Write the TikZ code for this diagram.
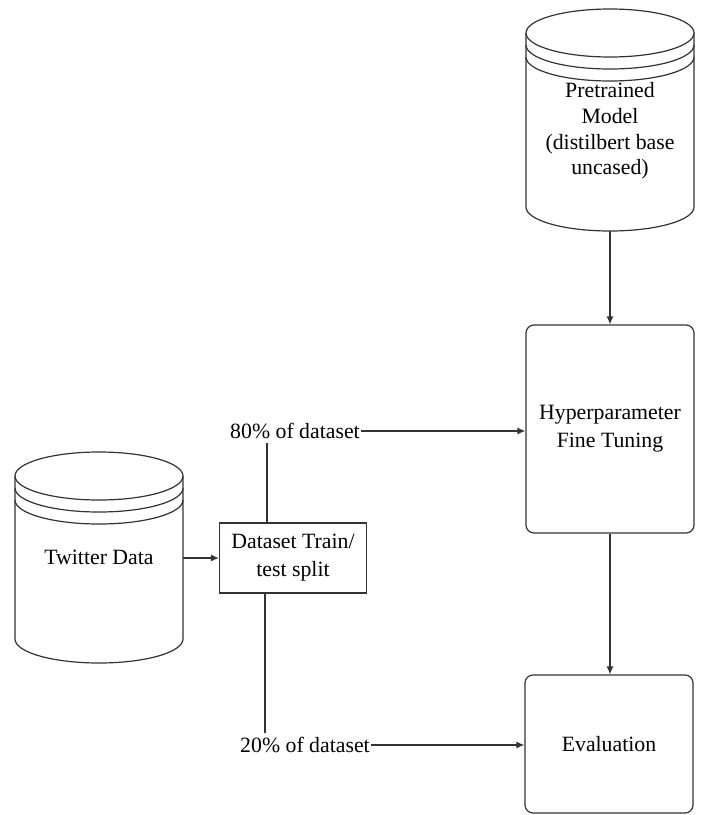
\documentclass[tikz,border=0pt]{standalone}
\usepackage{fontspec}
\setmainfont{Liberation Serif}
\usetikzlibrary{arrows.meta}

\begin{document}
\begin{tikzpicture}[x=0.5pt,y=-0.5pt,line width=0.6pt,draw=black!80,
        every node/.style={font=\fontsize{10.9}{14}\selectfont,align=center},
        stage/.style={draw,rounded corners=4pt,minimum width=84pt},
        share/.style={inner xsep=0.5pt,inner ysep=2pt},
        arr/.style={-{Latex[length=4pt,width=3.5pt]}}]
        \useasboundingbox (0,0) rectangle (701,815);
        % pretrained model store
        \draw (610,33) ellipse [x radius=84, y radius=24];
        \draw (526,45) arc [start angle=180, end angle=0, x radius=84, y radius=24];
        \draw (526,57) arc [start angle=180, end angle=0, x radius=84, y radius=24];
        \draw (526,33) -- (526,207) arc [start angle=180, end angle=0, x radius=84, y radius=24] -- (694,33);
        \node [font=\fontsize{10.9}{12.9}\selectfont] (pretrained) at (610,131) {Pretrained\\Model\\(distilbert base\\uncased)};
        \coordinate (pretrained-bot) at (610,231);
        % twitter data store
        \draw (99,476) ellipse [x radius=84, y radius=24];
        \draw (15,488) arc [start angle=180, end angle=0, x radius=84, y radius=24];
        \draw (15,500) arc [start angle=180, end angle=0, x radius=84, y radius=24];
        \draw (15,476) -- (15,639) arc [start angle=180, end angle=0, x radius=84, y radius=24] -- (183,476);
        \node (twitter) at (99,557) {Twitter Data};
        \coordinate (twitter-e) at (183,558);
        % boxes
        \node [draw,minimum width=73.5pt,minimum height=35pt] (split) at (293,558) {Dataset Train/\\test split};
        \node [stage,minimum height=104pt] (hyper) at (610,429) {Hyperparameter\\Fine Tuning};
        \node [stage,minimum height=69pt] (eval) at (609,744) {Evaluation};
        \node [share] (l80) at (295,431) {80\% of dataset};
        \node [share] (l20) at (305,745) {20\% of dataset};
        % connectors
        \draw [arr] (pretrained-bot) -- (hyper.north);
        \draw [arr] (hyper.south) -- (hyper.south |- eval.north);
        \draw [arr] (twitter-e) -- (split.west);
        \draw ([xshift=-13pt]split.north) -- ([xshift=-13pt]split.north |- l80.south);
        \draw ([xshift=-14pt]split.south) -- ([xshift=-14pt]split.south |- l20.north);
        \draw [arr] (l80.east) -- (l80.east -| hyper.west);
        \draw [arr] (l20.east) -- (l20.east -| eval.west);
    \end{tikzpicture}
\end{document}
